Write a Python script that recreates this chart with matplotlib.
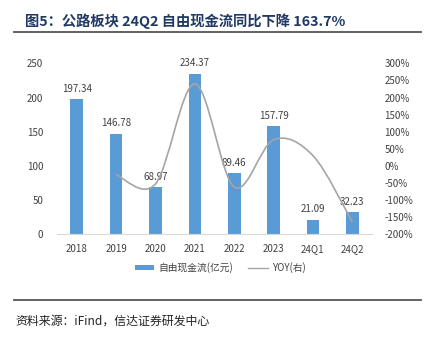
import matplotlib
matplotlib.use("Agg")
import matplotlib.pyplot as plt
from matplotlib.path import Path
from matplotlib.patches import PathPatch, Patch
from matplotlib.lines import Line2D

plt.rcParams['font.family'] = ['Noto Sans CJK SC', 'DejaVu Sans']

periods = ["2018", "2019", "2020", "2021", "2022", "2023", "24Q1", "24Q2"]
fcf = [197.34, 146.78, 68.97, 234.37, 89.46, 157.79, 21.09, 32.23]
# YOY 从2019开始
yoy_periods = [1, 2, 3, 4, 5, 6, 7]
yoy = [-25.6, -53.0, 239.8, -61.8, 76.4, 30.0, -163.7]

bar_color = "#5B9BD5"
line_color = "#A5A5A5"
text_color = "#404040"


def smooth_path(xs, ys):
    # Catmull-Rom 曲线转成三次贝塞尔
    pts = list(zip(xs, ys))
    verts = [pts[0]]
    codes = [Path.MOVETO]
    for i in range(len(pts) - 1):
        p0 = pts[i - 1] if i > 0 else pts[i]
        p1 = pts[i]
        p2 = pts[i + 1]
        p3 = pts[i + 2] if i + 2 < len(pts) else pts[i + 1]
        c1 = (p1[0] + (p2[0] - p0[0]) / 6, p1[1] + (p2[1] - p0[1]) / 6)
        c2 = (p2[0] - (p3[0] - p1[0]) / 6, p2[1] - (p3[1] - p1[1]) / 6)
        verts += [c1, c2, p2]
        codes += [Path.CURVE4] * 3
    return Path(verts, codes)


fig = plt.figure(figsize=(4.29, 3.37), dpi=100)
ax = fig.add_axes([0.1329, 0.3047, 0.7343, 0.5074])
ax2 = ax.twinx()

x = list(range(len(periods)))
ax.bar(x, fcf, width=0.32, color=bar_color, zorder=2)
for xi, v in zip(x, fcf):
    ax.annotate(f"{v:.2f}", (xi, v), xytext=(0, 4), textcoords="offset points",
                ha="center", va="bottom", fontsize=7, color=text_color)

ax.set_xlim(-0.5, len(periods) - 0.5)
ax.set_ylim(0, 250)
ax.set_yticks(range(0, 251, 50))
ax.set_xticks(x)
ax.set_xticklabels(periods)

ax2.set_ylim(-200, 300)
ax2.set_yticks(range(-200, 301, 50))
ax2.set_yticklabels([f"{t}%" for t in range(-200, 301, 50)])
ax2.add_patch(PathPatch(smooth_path(yoy_periods, yoy), fill=False,
                        edgecolor=line_color, lw=1.2, zorder=3))

for a in (ax, ax2):
    for s in a.spines.values():
        s.set_visible(False)
    a.tick_params(length=0, labelsize=7, labelcolor=text_color)
ax.spines["bottom"].set_visible(True)
ax.spines["bottom"].set_color("#D9D9D9")
ax.tick_params(axis="x", pad=7)
ax.tick_params(axis="y", pad=10)
ax2.tick_params(axis="y", pad=9)

handles = [Patch(facecolor=bar_color, edgecolor="none"),
           Line2D([], [], color=line_color, lw=1.0)]
fig.legend(handles, ["自由现金流(亿元)", "YOY(右)"], loc="center",
           bbox_to_anchor=(0.513, 0.205), ncol=2, frameon=False, fontsize=7,
           handlelength=2.0, handleheight=0.45, columnspacing=1.6,
           handletextpad=0.4, labelcolor=text_color)

fig.text(0.058, 0.936, "图5：公路板块 24Q2 自由现金流同比下降 163.7%",
         fontsize=10.3, fontweight="bold", color="#203864", va="center")
fig.add_artist(Line2D([14 / 429, 421 / 429], [1 - 31.7 / 337] * 2,
                      color="#555555", lw=1.3))
fig.add_artist(Line2D([14 / 429, 421 / 429], [1 - 300 / 337] * 2,
                      color="#555555", lw=1.3))
fig.text(0.037, 1 - 321 / 337, "资料来源：iFind，信达证券研发中心",
         fontsize=8.6, style="italic", color="#222222", va="center")

fig.savefig("out.png", dpi=100)
